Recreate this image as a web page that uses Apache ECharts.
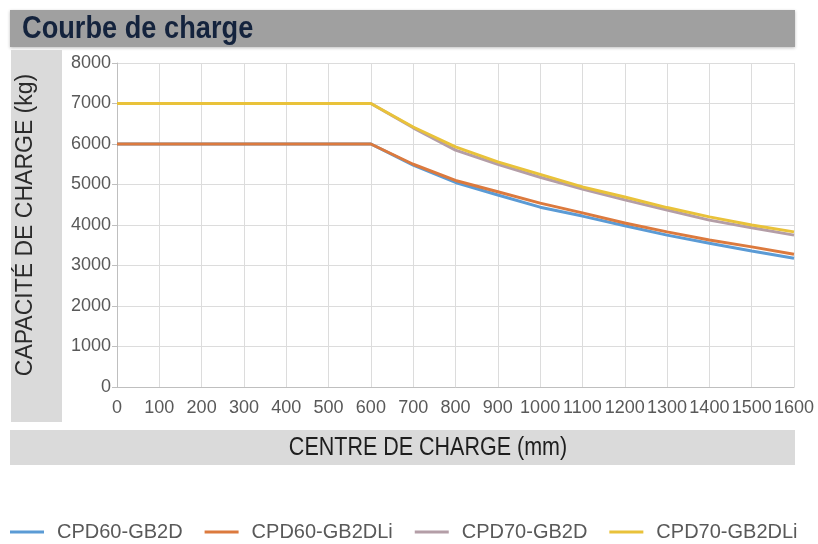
<!DOCTYPE html>
<html>
<head>
<meta charset="utf-8">
<script src="https://cdn.jsdelivr.net/npm/echarts@6/dist/echarts.min.js"></script>
<style>html,body{margin:0;padding:0;background:#fff}#c{width:818px;height:544px}</style>
</head>
<body>
<div id="c"></div>
<script>
var xValues = [0,100,200,300,400,500,600,700,800,900,1000,1100,1200,1300,1400,1500,1600];
var cpd60 = [6000,6000,6000,6000,6000,6000,6000,5480,5050,4740,4440,4220,3980,3750,3550,3360,3180];
var cpd60Li = [6000,6000,6000,6000,6000,6000,6000,5500,5100,4820,4540,4300,4050,3830,3630,3460,3280];
var cpd70 = [7000,7000,7000,7000,7000,7000,7000,6400,5850,5500,5180,4890,4620,4370,4120,3930,3750];
var cpd70Li = [7000,7000,7000,7000,7000,7000,7000,6420,5930,5560,5250,4940,4690,4430,4200,4000,3830];
var seriesNames = ['CPD60-GB2D','CPD60-GB2DLi','CPD70-GB2D','CPD70-GB2DLi'];
var title = 'Courbe de charge';
var yName = 'CAPACITÉ DE CHARGE (kg)';
var xName = 'CENTRE DE CHARGE (mm)';

function pairs(v){ return xValues.map(function(x,i){ return [x, v[i]]; }); }
var colors = ['#5b9bd5','#dc7a3e','#b49ea7','#e9c23a'];
var all = [cpd60, cpd60Li, cpd70, cpd70Li];
var FONT = '"Liberation Sans", Arial, sans-serif';

var chart = echarts.init(document.getElementById('c'), null, {renderer:'canvas'});
chart.setOption({
  animation:false,
  graphic:[
    {type:'rect', shape:{x:10,y:10,width:785,height:37}, style:{fill:'#a0a0a0', shadowBlur:3, shadowColor:'rgba(0,0,0,0.25)', shadowOffsetY:1}, z:-10},
    {type:'text', x:22, y:29, scaleX:0.85, originX:0, originY:0,
      style:{text:title, fill:'#14233d', font:'bold 32px ' + FONT, verticalAlign:'middle'}},
    {type:'rect', shape:{x:11,y:50,width:51,height:372}, style:{fill:'#dadada'}, z:-10},
    {type:'rect', shape:{x:10,y:430,width:785,height:35}, style:{fill:'#dadada'}, z:-10},
    {type:'text', x:428, y:448, scaleX:0.86, originX:0, originY:0,
      style:{text:xName, fill:'#1e1e1e', font:'25px ' + FONT, align:'center', verticalAlign:'middle'}}
  ],
  color: colors,
  legend:{
    data: seriesNames,
    left: 10, top: 522, padding: 0,
    icon: 'rect',
    itemWidth: 34, itemHeight: 3, itemGap: 22,
    textStyle:{color:'#595959', fontSize:20, fontFamily:FONT, padding:[0,0,0,8]}
  },
  grid:{left:117, right:24, top:63, bottom:157},
  xAxis:{
    type:'value', min:0, max:1600, interval:100,
    axisLine:{show:true, lineStyle:{color:'#bfbfbf'}},
    axisTick:{show:false},
    axisLabel:{color:'#595959', fontSize:18, margin:12, fontFamily:FONT, hideOverlap:false, showMaxLabel:true, showMinLabel:true,
      formatter:function(v){ return String(v); }},
    splitLine:{show:true, lineStyle:{color:'#dcdcdc'}}
  },
  yAxis:{
    type:'value', min:0, max:8000, interval:1000,
    name: yName, nameLocation:'middle', nameGap:80, nameRotate:90,
    nameTextStyle:{color:'#2a2a2a', fontSize:23, fontFamily:FONT},
    axisLine:{show:true, lineStyle:{color:'#bfbfbf'}},
    axisTick:{show:true, length:5, lineStyle:{color:'#bfbfbf'}},
    axisLabel:{color:'#595959', fontSize:18, margin:6, fontFamily:FONT,
      formatter:function(v){ return String(v); }},
    splitLine:{show:true, lineStyle:{color:'#dcdcdc'}}
  },
  series: all.map(function(v,i){
    return {name:seriesNames[i], type:'line', data:pairs(v), symbol:'none', showSymbol:false,
      lineStyle:{width:3, color:colors[i]}, itemStyle:{color:colors[i]}, z:2+i};
  })
});
</script>
</body>
</html>
